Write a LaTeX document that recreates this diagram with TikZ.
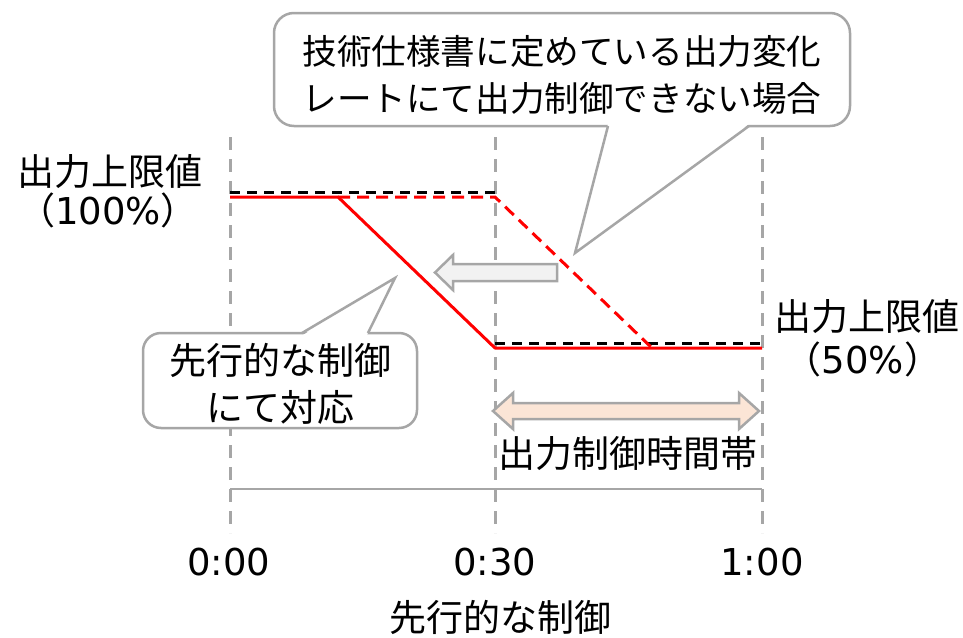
\documentclass[tikz,border=0pt]{standalone}
\usepackage{fontspec}
\setmainfont{Noto Sans CJK JP}
\newfontfamily\digitfont{DejaVu Sans}
\definecolor{gline}{HTML}{A6A6A6}
\definecolor{redl}{HTML}{FF0000}
\definecolor{afill}{HTML}{F2F2F2}
\definecolor{pfill}{HTML}{FBE5D6}
\newcommand{\dg}[1]{{\digitfont #1}}
\begin{document}
\begin{tikzpicture}[x=1pt,y=-1pt,
  lbl/.style={inner sep=0pt,font=\fontsize{37}{44}\selectfont,text height=32.5pt,text depth=4.5pt},
  lbls/.style={inner sep=0pt,font=\fontsize{34.6}{41}\selectfont,text height=30.4pt,text depth=4.2pt},
  vgrid/.style={draw=gline,line width=3pt,dash pattern=on 13pt off 9pt},
  blackdash/.style={draw=black,line width=3pt,dash pattern=on 10pt off 7pt},
  redsolid/.style={draw=redl,line width=3pt},
  reddash/.style={draw=redl,line width=3pt,dash pattern=on 12pt off 7pt},
  callout/.style={draw=gline,line width=2.5pt,fill=white},
  fatarrow/.style={draw=gline,line width=2.5pt,line join=miter}]
\useasboundingbox (0,0) rectangle (963,637);

% coordinates
\coordinate (t0top) at (230,137); \coordinate (t0bot) at (230,533);
\coordinate (t1top) at (495,137); \coordinate (t1bot) at (495,533);
\coordinate (t2top) at (762,137); \coordinate (t2bot) at (762,533);

% vertical grid lines
\draw[vgrid] (t0top) -- (t0bot);
\draw[vgrid] (t1top) -- (t1bot);
\draw[vgrid] (t2top) -- (t2bot);

% time axis
\coordinate (ax0) at (230,489); \coordinate (ax2) at (762,489);
\draw[gline,line width=2.5pt] (ax0) -- (ax2);

% upper-limit black dashed
\coordinate (b1) at (230,192); \coordinate (b2) at (495,192);
\coordinate (b3) at (495,343); \coordinate (b4) at (762,343);
\draw[blackdash] (b1) -- (b2);
\draw[blackdash] (b3) -- (b4);

% red lines
\coordinate (r0) at (230,197); \coordinate (r1) at (338,197);
\coordinate (r2) at (495,348); \coordinate (r3) at (762,348);
\coordinate (d1) at (495,197); \coordinate (d2) at (652,348);
\draw[reddash] (r1) -- (d1) -- (d2);
\draw[redsolid,line join=round] (r0) -- (r1) -- (r2) -- (r3);

% left-pointing grey arrow
\draw[fatarrow,fill=afill] (557,264) -- (453,264) -- (453,255) -- (435,272.5) -- (453,290) -- (453,281) -- (557,281) -- cycle;

% double arrow
\draw[fatarrow,fill=pfill] (493,411) -- (513,393) -- (513,403) -- (739,403) -- (739,393) -- (759,411) -- (739,429) -- (739,419) -- (513,419) -- (513,429) -- cycle;

% top callout
\draw[callout,rounded corners=20pt] (274,13) rectangle (850,126);
\fill[white] (608,124) -- (575,253) -- (749,124) -- cycle;
\draw[gline,line width=2.5pt,line join=miter] (608,126) -- (575,253) -- (749,126);
\node[lbls] (c1a) at (562,51) {技術仕様書に定めている出力変化};
\node[lbls] (c1b) at (562,98) {レートにて出力制御できない場合};

% lower-left callout
\draw[callout,rounded corners=18pt] (143,333) rectangle (417,428);
\fill[white] (303,335) -- (395,278) -- (367,335) -- cycle;
\draw[gline,line width=2.5pt,line join=miter] (302,333) -- (395,278) -- (368,333);
\node[lbl] (c2a) at (280,360) {先行的な制御};
\node[lbl] (c2b) at (280,407) {にて対応};

% side labels
\node[lbl] (ul1) at (110,171) {出力上限値};
\node[lbl] (ul1p) at (108,210) {（\dg{100\%}）};
\node[lbl] (ul2) at (867,316) {出力上限値};
\node[lbl] (ul2p) at (863,359) {（\dg{50\%}）};

% period label
\node[lbl] (per) at (628,453) {出力制御時間帯};

% time labels
\node[lbl] (l0) at (229,561) {\dg{0:00}};
\node[lbl] (l1) at (495,561) {\dg{0:30}};
\node[lbl] (l2) at (762,561) {\dg{1:00}};
\node[lbl] (cap) at (500,617) {先行的な制御};
\end{tikzpicture}
\end{document}
